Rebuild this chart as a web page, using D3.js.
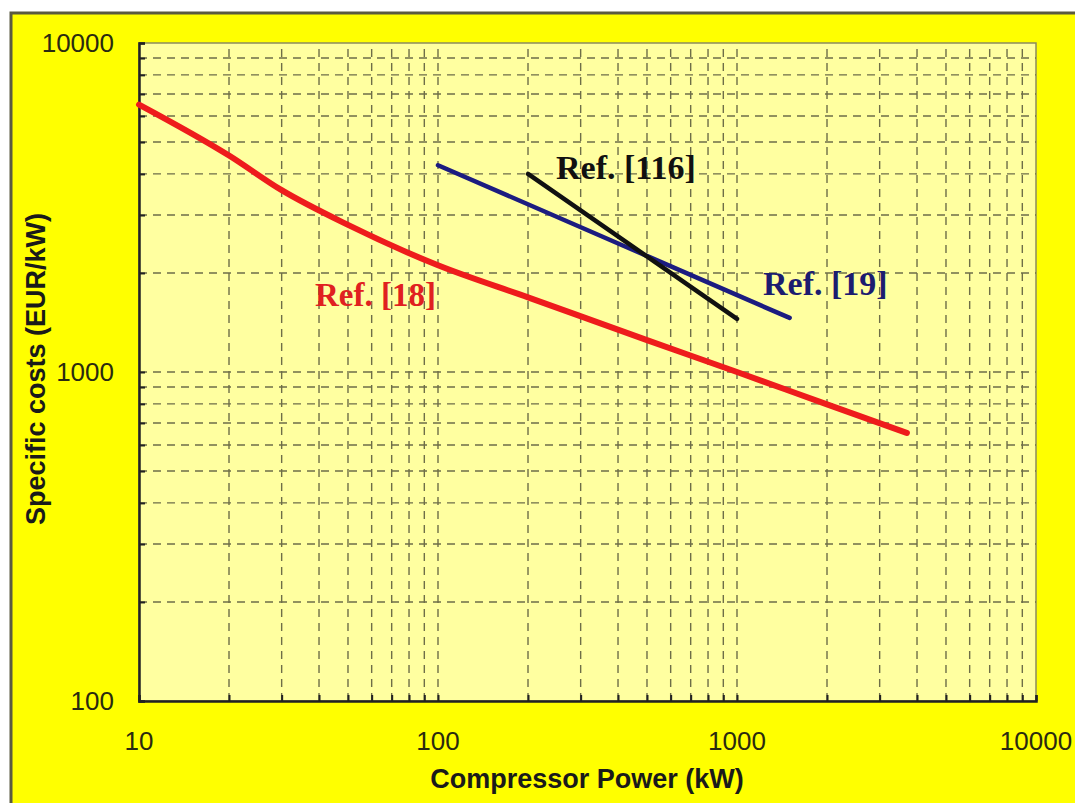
<!DOCTYPE html>
<html><head><meta charset="utf-8">
<script src="https://cdn.jsdelivr.net/npm/d3@7"></script>
<style>
html,body{margin:0;padding:0;background:#fff;}
svg{display:block;}
</style></head>
<body>
<svg id="chart" width="1075" height="803"></svg>
<script>
// ---- data ----
const xTickValues = [10, 100, 1000, 10000];
const yTickValues = [100, 1000, 10000];
const ref18Power = [10, 20, 30, 50, 100, 200, 500, 1000, 2000, 3700];
const ref18Cost  = [6500, 4550, 3570, 2800, 2110, 1686, 1250, 1000, 797, 653];
const ref19Power = [100, 474, 1500];
const ref19Cost  = [4250, 2300, 1460];
const ref116Power = [200, 1000];
const ref116Cost  = [4000, 1450];
const seriesLabels = ["Ref. [18]", "Ref. [19]", "Ref. [116]"];

const svg = d3.select("#chart");
const W = 1075, H = 803;
const L = 139, R = 1036, T = 43, B = 701;

// outer yellow panel
svg.append("rect").attr("x", 11).attr("y", 13).attr("width", W + 10).attr("height", H + 10)
  .attr("fill", "#ffff00").attr("stroke", "#5a5a40").attr("stroke-width", 3);

const x = d3.scaleLog().domain([10, 10000]).range([L, R]);
const y = d3.scaleLog().domain([100, 10000]).range([B, T]);

// plot area
svg.append("rect").attr("x", L).attr("y", T).attr("width", R - L).attr("height", B - T)
  .attr("fill", "#ffffa0").attr("stroke", "#8c8c5c").attr("stroke-width", 1.5);

// grid values
function minorVals(lo, hi) {
  const v = [];
  for (let d = lo; d < hi; d *= 10) for (let k = 1; k <= 9; k++) v.push(d * k);
  v.push(hi);
  return v;
}
const xGrid = minorVals(10, 10000).filter(v => v > 10 && v < 10000);
const yGrid = minorVals(100, 10000).filter(v => v > 100 && v < 10000);

const grid = svg.append("g").attr("stroke", "#6e6e48").attr("stroke-width", 1.4)
  .attr("stroke-dasharray", "8,6");
grid.selectAll("line.v").data(xGrid).join("line").attr("class", "v")
  .attr("x1", d => x(d)).attr("x2", d => x(d)).attr("y1", B).attr("y2", T);
grid.selectAll("line.h").data(yGrid).join("line").attr("class", "h")
  .attr("y1", d => y(d)).attr("y2", d => y(d)).attr("x1", L).attr("x2", R);

// axes with inward ticks
const xAxis = d3.axisBottom(x).tickValues(xGrid.concat([10, 10000])).tickSize(-6).tickFormat("");
const yAxis = d3.axisLeft(y).tickValues(yGrid.concat([100, 10000])).tickSize(-6).tickFormat("");
const gx = svg.append("g").attr("transform", `translate(0,${B})`).call(xAxis);
const gy = svg.append("g").attr("transform", `translate(${L},0)`).call(yAxis);
[gx, gy].forEach(g => {
  g.select(".domain").attr("stroke", "#222").attr("stroke-width", 2.5);
  g.selectAll(".tick line").attr("stroke", "#222").attr("stroke-width", 2);
});

// tick labels
const tickFont = "'Liberation Sans', Arial, sans-serif";
svg.append("g").selectAll("text").data(xTickValues).join("text")
  .attr("x", d => x(d)).attr("y", 750).attr("text-anchor", "middle")
  .attr("font-family", tickFont).attr("font-size", 26).attr("fill", "#2a2a10")
  .text(d => d);
svg.append("g").selectAll("text").data(yTickValues).join("text")
  .attr("x", 114).attr("y", d => y(d) + 9).attr("text-anchor", "end")
  .attr("font-family", tickFont).attr("font-size", 26).attr("fill", "#2a2a10")
  .text(d => d);

// axis titles
svg.append("text").attr("x", 587).attr("y", 788).attr("text-anchor", "middle")
  .attr("font-family", tickFont).attr("font-weight", "bold").attr("font-size", 27)
  .attr("fill", "#1a1a1a").text("Compressor Power (kW)");
svg.append("text").attr("transform", "translate(45,369) rotate(-90)").attr("text-anchor", "middle")
  .attr("font-family", tickFont).attr("font-weight", "bold").attr("font-size", 27)
  .attr("fill", "#1a1a1a").text("Specific costs (EUR/kW)");

// lines
const line = d3.line().x(d => x(d[0])).y(d => y(d[1])).curve(d3.curveMonotoneX);
const mk = (xs, ys) => xs.map((v, i) => [v, ys[i]]);
svg.append("path").datum(mk(ref18Power, ref18Cost)).attr("d", line)
  .attr("fill", "none").attr("stroke", "#ee1c1c").attr("stroke-width", 6).attr("stroke-linecap", "round");
svg.append("path").datum(mk(ref19Power, ref19Cost)).attr("d", line)
  .attr("fill", "none").attr("stroke", "#1c1c80").attr("stroke-width", 4.5).attr("stroke-linecap", "round");
svg.append("path").datum(mk(ref116Power, ref116Cost)).attr("d", line)
  .attr("fill", "none").attr("stroke", "#111").attr("stroke-width", 4.5).attr("stroke-linecap", "round");

// series labels
const serif = "'Liberation Serif', 'Times New Roman', serif";
svg.append("text").attr("x", 315).attr("y", 306).attr("font-family", serif).attr("font-weight", "bold")
  .attr("font-size", 33).attr("fill", "#e02020").text(seriesLabels[0]);
svg.append("text").attr("x", 763).attr("y", 295).attr("font-family", serif).attr("font-weight", "bold")
  .attr("font-size", 34).attr("fill", "#1c1c70").text(seriesLabels[1]);
svg.append("text").attr("x", 556).attr("y", 179).attr("font-family", serif).attr("font-weight", "bold")
  .attr("font-size", 34).attr("fill", "#111").text(seriesLabels[2]);
</script>
</body></html>
